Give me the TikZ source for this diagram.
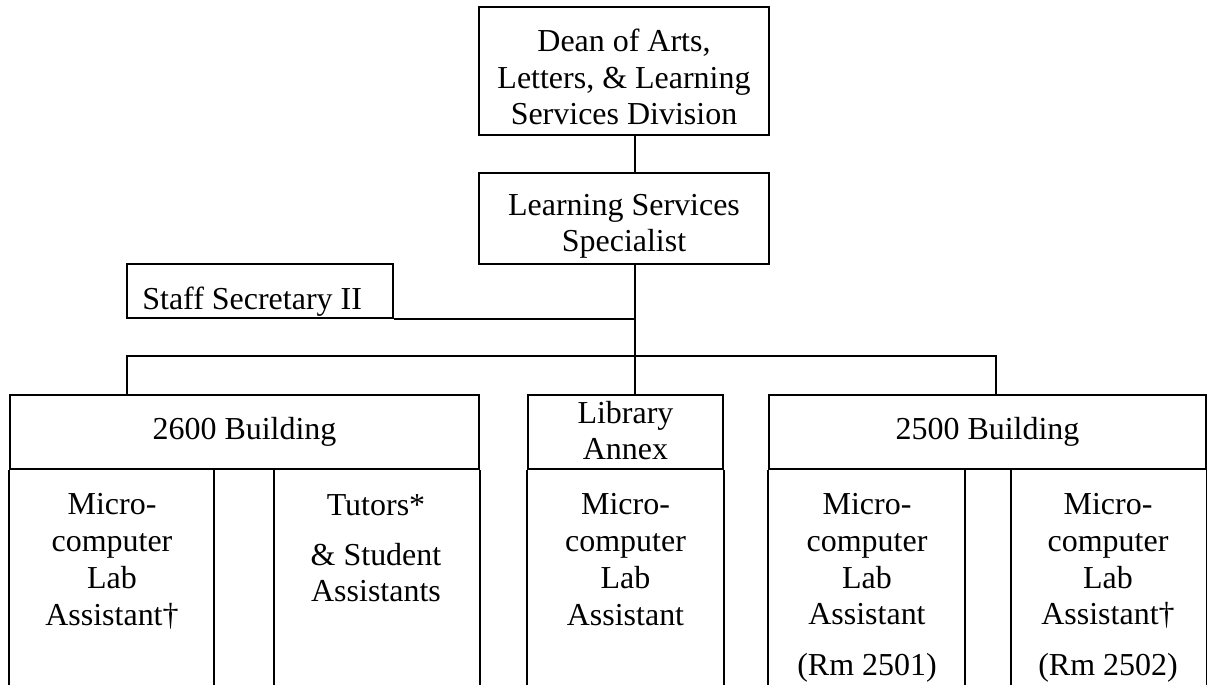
\documentclass[tikz,border=0pt]{standalone}
\usepackage{fontspec}
\setmainfont{Liberation Serif}
\usetikzlibrary{positioning}
\tikzset{
  box/.style={draw, line width=1.25pt, inner sep=0pt},
  conn/.style={line width=1.25pt},
  lbl/.style={align=center, anchor=base, inner sep=0pt, font=\fontsize{18.2pt}{20.9pt}\selectfont}
}

\begin{document}
\begin{tikzpicture}[x=0.02cm, y=-0.02cm]
		\useasboundingbox (0,0) rectangle (1207,685);
		\clip (0,0) rectangle (1207,685);
		\node[box, minimum width=5.8cm, minimum height=2.56cm] (dean) at (624,71) {};
		\node[box, minimum width=5.8cm, minimum height=1.82cm] (spec) at (624,218.5) {};
		\node[box, minimum width=5.32cm, minimum height=1.08cm] (staff) at (260,291) {};
		\node[box, minimum width=9.38cm, minimum height=1.48cm] (h26) at (244.5,432) {};
		\node[box, minimum width=3.9cm, minimum height=1.48cm] (hlib) at (625.5,432) {};
		\node[box, minimum width=8.74cm, minimum height=1.48cm] (h25) at (987.5,432) {};
		\coordinate (floor) at (0,700);
		\coordinate (trunk) at (635,0);
		\coordinate (barL) at (127,356);
		\coordinate (barR) at (996,356);
		\draw[conn] (dean.south -| trunk) -- (spec.north -| trunk);
		\draw[conn] (spec.south -| trunk) -- (hlib.north -| trunk);
		\draw[conn] (staff.south east) -- (staff.south east -| trunk);
		\draw[conn] (h26.north -| barL) |- (barR) -- (h25.north -| barR);
		\foreach \c in {h26.south west, h26.south east, hlib.south west, hlib.south east, h25.south west, h25.south east}
			\draw[conn] (\c) -- (\c |- floor);
		\foreach \x in {214, 274, 965, 1011}
			\draw[conn] (h26.south -| \x,0) -- (\x,700);
		\node[lbl] (deantxt) at (624,125) {Dean of Arts,\\Letters, \& Learning\\Services Division};
		\node[lbl] (spectxt) at (624,252) {Learning Services\\Specialist};
		\node[lbl, anchor=base west] (stafftxt) at (142,310) {Staff Secretary II};
		\node[lbl] (t26) at (244.5,440) {2600 Building};
		\node[lbl] (tlib) at (625.5,460) {Library\\Annex};
		\node[lbl] (t25) at (987.5,440) {2500 Building};
		\node[lbl] (lab1) at (112,625) {Micro-\\computer\\Lab\\Assistant†};
		\node[lbl] (tutors) at (376,602) {Tutors*\\[0.27cm]\& Student\\Assistants};
		\node[lbl] (lab2) at (625.5,625) {Micro-\\computer\\Lab\\Assistant};
		\node[lbl] (lab3) at (867,675) {Micro-\\computer\\Lab\\Assistant\\[0.27cm](Rm 2501)};
		\node[lbl] (lab4) at (1108,675) {Micro-\\computer\\Lab\\Assistant†\\[0.27cm](Rm 2502)};
\end{tikzpicture}
\end{document}
